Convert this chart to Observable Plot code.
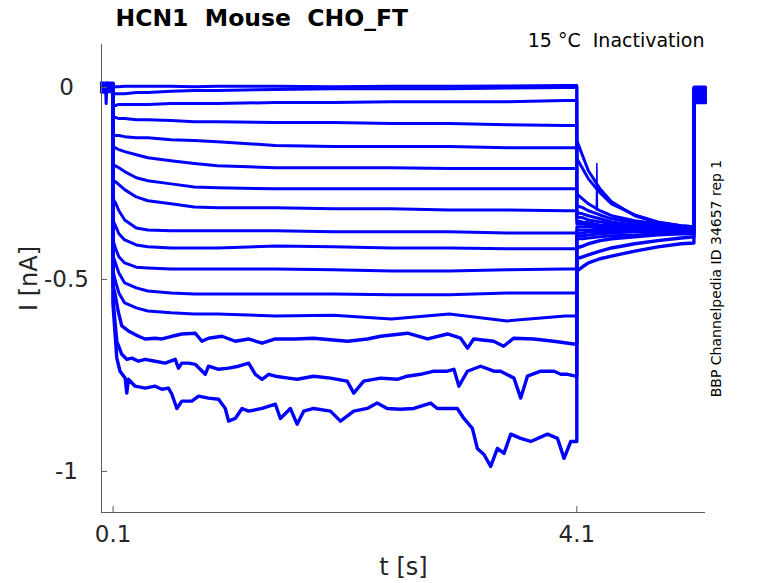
<!DOCTYPE html>
<html>
<head>
<meta charset="utf-8">
<script src="https://cdn.jsdelivr.net/npm/d3@7"></script>
<script src="https://cdn.jsdelivr.net/npm/@observablehq/plot@0.6"></script>
<style>
  html, body { margin: 0; padding: 0; background: white; }
  svg text { white-space: pre; }
</style>
</head>
<body>
<div id="chart"></div>
<script>
// ---- axes ----
const xDomain = [0, 5.21];
const yDomain = [-1.107, 0.112];
const xTicks = [0.1, 4.1];
const yTicks = [-1, -0.5, 0];

// ---- protocol phases (s) ----
const preT = [0, 0.035, 0.04, 0.045, 0.1];
const condT = [0.1, 0.12, 0.15, 0.2, 0.3, 0.4, 0.6, 0.8, 1.0, 1.5, 2.0, 2.5, 3.0, 3.5, 4.0, 4.1];
const tailT = [4.1, 4.15, 4.2, 4.3, 4.4, 4.6, 4.8, 5.0, 5.11];
const postT = [5.11, 5.21];

// ---- holding current before the step (nA), traces 1..16 ----
const preI = [
  [0.003, 0.004, -0.042, 0.002, 0.002],
  [0.008, 0.006, 0.007, 0.009, 0.006],
  [-0.006, -0.004, -0.008, -0.005, -0.006],
  [0.002, 0.004, 0.001, 0.003, 0.004],
  [-0.002, 0.000, -0.003, -0.001, -0.002],
  [0.010, 0.011, 0.009, 0.010, 0.012],
  [-0.010, -0.009, -0.011, -0.010, -0.008],
  [0.005, 0.006, 0.004, 0.005, 0.006],
  [-0.004, -0.003, -0.005, -0.004, -0.003],
  [0.000, 0.001, -0.001, 0.000, 0.001],
  [0.007, 0.005, 0.006, 0.008, 0.007],
  [-0.007, -0.006, -0.008, -0.007, -0.006],
  [0.003, 0.002, 0.004, 0.003, 0.002],
  [-0.001, 0.000, -0.002, -0.001, 0.000],
  [0.012, 0.010, 0.011, 0.012, 0.010],
  [-0.012, -0.011, -0.012, -0.010, -0.011]
];

// ---- conditioning pulse current (nA) on condT, traces 1..13 ----
const condI = [
  [0.002, 0.002, 0.002, 0.003, 0.003, 0.003, 0.003, 0.002, 0.003, 0.003, 0.002, 0.003, 0.003, 0.004, 0.005, 0.005],
  [-0.016, -0.016, -0.016, -0.016, -0.013, -0.013, -0.010, -0.008, -0.008, -0.005, -0.003, -0.003, -0.003, -0.001, 0.000, 0.000],
  [-0.047, -0.047, -0.044, -0.044, -0.044, -0.044, -0.042, -0.042, -0.042, -0.039, -0.039, -0.037, -0.037, -0.037, -0.034, -0.034],
  [-0.078, -0.078, -0.081, -0.081, -0.084, -0.084, -0.086, -0.089, -0.089, -0.091, -0.091, -0.094, -0.094, -0.097, -0.099, -0.099],
  [-0.125, -0.125, -0.125, -0.128, -0.131, -0.131, -0.136, -0.138, -0.141, -0.151, -0.154, -0.154, -0.154, -0.157, -0.157, -0.157],
  [-0.157, -0.157, -0.162, -0.167, -0.175, -0.183, -0.191, -0.198, -0.204, -0.209, -0.209, -0.209, -0.211, -0.211, -0.211, -0.211],
  [-0.204, -0.204, -0.209, -0.219, -0.235, -0.243, -0.251, -0.259, -0.261, -0.264, -0.264, -0.264, -0.264, -0.264, -0.264, -0.264],
  [-0.243, -0.245, -0.253, -0.266, -0.285, -0.295, -0.303, -0.311, -0.313, -0.313, -0.316, -0.316, -0.319, -0.319, -0.321, -0.321],
  [-0.290, -0.300, -0.321, -0.345, -0.366, -0.371, -0.373, -0.373, -0.373, -0.373, -0.376, -0.376, -0.376, -0.379, -0.379, -0.379],
  [-0.347, -0.360, -0.381, -0.397, -0.410, -0.415, -0.418, -0.418, -0.418, -0.413, -0.415, -0.418, -0.418, -0.420, -0.420, -0.420],
  [-0.399, -0.418, -0.441, -0.457, -0.468, -0.470, -0.473, -0.473, -0.473, -0.473, -0.475, -0.478, -0.478, -0.475, -0.473, -0.473],
  [-0.439, -0.457, -0.483, -0.509, -0.522, -0.530, -0.535, -0.538, -0.538, -0.538, -0.538, -0.540, -0.540, -0.535, -0.535, -0.535],
  [-0.478, -0.504, -0.535, -0.561, -0.574, -0.582, -0.587, -0.590, -0.590, -0.595, -0.593, -0.603, -0.590, -0.608, -0.595, -0.595]
];

// ---- noisier deep traces 14..16: [t (s), I (nA)] ----
const trace14 = [[0.100,-0.517],[0.117,-0.538],[0.143,-0.582],[0.175,-0.621],[0.232,-0.634],[0.319,-0.648],[0.376,-0.655],[0.463,-0.653],[0.521,-0.655],[0.607,-0.648],[0.693,-0.642],[0.808,-0.640],[0.866,-0.661],[0.923,-0.653],[1.039,-0.648],[1.154,-0.661],[1.269,-0.655],[1.385,-0.666],[1.500,-0.655],[1.672,-0.655],[1.828,-0.653],[2.122,-0.661],[2.294,-0.655],[2.407,-0.648],[2.640,-0.640],[2.813,-0.655],[2.985,-0.642],[3.098,-0.653],[3.158,-0.679],[3.210,-0.655],[3.383,-0.661],[3.469,-0.674],[3.556,-0.653],[3.728,-0.655],[3.901,-0.661],[4.074,-0.668],[4.100,-0.668]];
const trace15 = [[0.100,-0.556],[0.132,-0.661],[0.175,-0.695],[0.218,-0.708],[0.262,-0.705],[0.319,-0.713],[0.376,-0.708],[0.463,-0.713],[0.549,-0.718],[0.636,-0.708],[0.664,-0.731],[0.693,-0.718],[0.751,-0.718],[0.808,-0.721],[0.895,-0.747],[0.923,-0.726],[1.010,-0.734],[1.096,-0.731],[1.183,-0.726],[1.269,-0.718],[1.327,-0.747],[1.385,-0.760],[1.442,-0.747],[1.500,-0.752],[1.614,-0.757],[1.687,-0.760],[1.830,-0.752],[1.975,-0.757],[2.119,-0.765],[2.176,-0.796],[2.262,-0.765],[2.407,-0.757],[2.551,-0.760],[2.637,-0.752],[2.752,-0.747],[2.867,-0.739],[2.983,-0.739],[3.040,-0.734],[3.083,-0.778],[3.156,-0.739],[3.270,-0.726],[3.385,-0.739],[3.443,-0.739],[3.558,-0.757],[3.616,-0.809],[3.674,-0.752],[3.789,-0.739],[3.904,-0.739],[3.962,-0.747],[4.019,-0.747],[4.091,-0.752],[4.100,-0.752]];
const trace16 = [[0.100,-0.569],[0.132,-0.705],[0.160,-0.739],[0.204,-0.757],[0.218,-0.796],[0.232,-0.760],[0.290,-0.778],[0.376,-0.783],[0.463,-0.778],[0.521,-0.786],[0.578,-0.783],[0.607,-0.799],[0.650,-0.836],[0.693,-0.817],[0.780,-0.817],[0.837,-0.804],[0.923,-0.809],[1.010,-0.812],[1.068,-0.836],[1.096,-0.869],[1.154,-0.862],[1.212,-0.836],[1.269,-0.843],[1.385,-0.836],[1.500,-0.825],[1.543,-0.862],[1.629,-0.836],[1.687,-0.877],[1.744,-0.843],[1.830,-0.836],[1.975,-0.843],[2.061,-0.869],[2.176,-0.843],[2.292,-0.836],[2.378,-0.822],[2.464,-0.836],[2.579,-0.838],[2.694,-0.836],[2.839,-0.822],[2.896,-0.836],[3.069,-0.836],[3.126,-0.862],[3.199,-0.888],[3.242,-0.940],[3.299,-0.956],[3.357,-0.987],[3.415,-0.940],[3.472,-0.953],[3.530,-0.903],[3.616,-0.914],[3.702,-0.922],[3.847,-0.903],[3.933,-0.914],[3.990,-0.966],[4.048,-0.922],[4.100,-0.922]];

// ---- tail (test pulse) current (nA) on tailT, traces 1..16 ----
const tailI = [
  [-0.138, -0.178, -0.217, -0.264, -0.298, -0.334, -0.352, -0.360, -0.363],
  [-0.185, -0.211, -0.238, -0.274, -0.303, -0.332, -0.350, -0.360, -0.363],
  [-0.277, -0.290, -0.303, -0.321, -0.334, -0.347, -0.355, -0.363, -0.366],
  [-0.308, -0.313, -0.321, -0.332, -0.342, -0.352, -0.360, -0.366, -0.366],
  [-0.326, -0.329, -0.334, -0.342, -0.350, -0.358, -0.363, -0.366, -0.368],
  [-0.337, -0.339, -0.345, -0.350, -0.355, -0.360, -0.366, -0.368, -0.368],
  [-0.347, -0.350, -0.352, -0.358, -0.360, -0.363, -0.366, -0.368, -0.368],
  [-0.355, -0.355, -0.358, -0.360, -0.363, -0.366, -0.368, -0.368, -0.371],
  [-0.363, -0.363, -0.363, -0.366, -0.366, -0.368, -0.368, -0.371, -0.371],
  [-0.371, -0.371, -0.371, -0.371, -0.371, -0.371, -0.371, -0.371, -0.371],
  [-0.379, -0.379, -0.376, -0.376, -0.373, -0.373, -0.373, -0.371, -0.371],
  [-0.386, -0.386, -0.384, -0.381, -0.379, -0.376, -0.376, -0.373, -0.373],
  [-0.394, -0.394, -0.392, -0.389, -0.386, -0.384, -0.381, -0.379, -0.379],
  [-0.418, -0.413, -0.407, -0.399, -0.394, -0.389, -0.384, -0.381, -0.381],
  [-0.446, -0.441, -0.436, -0.426, -0.418, -0.407, -0.399, -0.392, -0.389],
  [-0.478, -0.467, -0.457, -0.446, -0.439, -0.426, -0.415, -0.407, -0.405]
];
// a single-sample artefact on trace 3 during the tail
const spikeT = [4.268, 4.273, 4.278];
const spikeI = [-0.319, -0.198, -0.319];

// ---- return to holding (nA) on postT, traces 1..16 ----
const postI = [0.001, -0.010, -0.038, -0.015, -0.022, -0.040, -0.004, -0.027, -0.012, -0.033, -0.018, -0.024, -0.002, -0.030, -0.007, -0.036];

// ---- texts ----
const titleText = "HCN1  Mouse  CHO_FT";
const subtitleText = "15 °C  Inactivation";
const sideText = "BBP Channelpedia ID 34657 rep 1";
const xLabel = "t [s]";
const yLabel = "I [nA]";

// ---- build rows ----
const deepTraces = [trace14, trace15, trace16];
const rows = [];
for (let k = 0; k < 16; k++) {
  preT.forEach((t, i) => rows.push({k, t, I: preI[k][i]}));
  if (k < 13) {
    condT.forEach((t, i) => rows.push({k, t, I: condI[k][i]}));
  } else {
    deepTraces[k - 13].forEach(([t, I]) => rows.push({k, t, I}));
  }
  tailT.forEach((t, i) => rows.push({k, t, I: tailI[k][i]}));
  postT.forEach(t => rows.push({k, t, I: postI[k]}));
}
const spikeRows = spikeT.map((t, i) => ({k: 2, t, I: spikeI[i]}));

const W = 778, H = 583, mL = 101, mR = 73, mT = 44, mB = 71;
const frameW = W - mL - mR, frameH = H - mT - mB;
const axisColor = "#5a5a5a";
const textColor = "#262626";

const chart = Plot.plot({
  width: W,
  height: H,
  marginLeft: mL,
  marginRight: mR,
  marginTop: mT,
  marginBottom: mB,
  style: {fontFamily: "DejaVu Sans", fontSize: "23px", background: "white", color: textColor},
  x: {domain: xDomain},
  y: {domain: yDomain},
  marks: [
    Plot.line(rows.filter(d => d.k < 13), {x: "t", y: "I", z: "k", stroke: "#0000ff", strokeWidth: 3, strokeLinejoin: "round"}),
    Plot.line(rows.filter(d => d.k >= 13), {x: "t", y: "I", z: "k", stroke: "#0000ff", strokeWidth: 3.4, strokeLinejoin: "round"}),
    Plot.line(spikeRows, {x: "t", y: "I", z: "k", stroke: "#0000ff", strokeWidth: 1.5}),
    Plot.ruleX([xDomain[0]], {stroke: axisColor, strokeWidth: 1}),
    Plot.ruleY([yDomain[0]], {stroke: axisColor, strokeWidth: 1}),
    Plot.tickY(yTicks, {y: d => d, insetRight: frameW - 6, stroke: axisColor}),
    Plot.tickX(xTicks, {x: d => d, insetTop: frameH - 6, stroke: axisColor}),
    Plot.axisY(yTicks, {tickSize: 0, tickPadding: 35, textAnchor: "middle", fontSize: 23, fill: textColor, tickFormat: d => String(d), label: null}),
    Plot.axisX(xTicks, {tickSize: 0, tickPadding: 13, fontSize: 23, fill: textColor, tickFormat: d => String(d), label: null}),
    Plot.text([titleText], {frameAnchor: "top-left", dx: 14, dy: -26, textAnchor: "start", lineAnchor: "middle", fontWeight: "bold", fontSize: 23.5, fill: "black"}),
    Plot.text([subtitleText], {frameAnchor: "top-right", dx: -1, dy: -4, textAnchor: "end", lineAnchor: "middle", fontSize: 19, fill: "black"}),
    Plot.text([sideText], {frameAnchor: "right", dx: 11, rotate: -90, textAnchor: "middle", lineAnchor: "middle", fontSize: 14, fill: "black"}),
    Plot.text([xLabel], {frameAnchor: "bottom", dy: 55, textAnchor: "middle", lineAnchor: "middle", fontSize: 24, fill: textColor}),
    Plot.text([yLabel], {frameAnchor: "left", dx: -72, rotate: -90, textAnchor: "middle", lineAnchor: "middle", fontSize: 24, fill: textColor})
  ]
});
document.getElementById("chart").appendChild(chart);
</script>
</body>
</html>
